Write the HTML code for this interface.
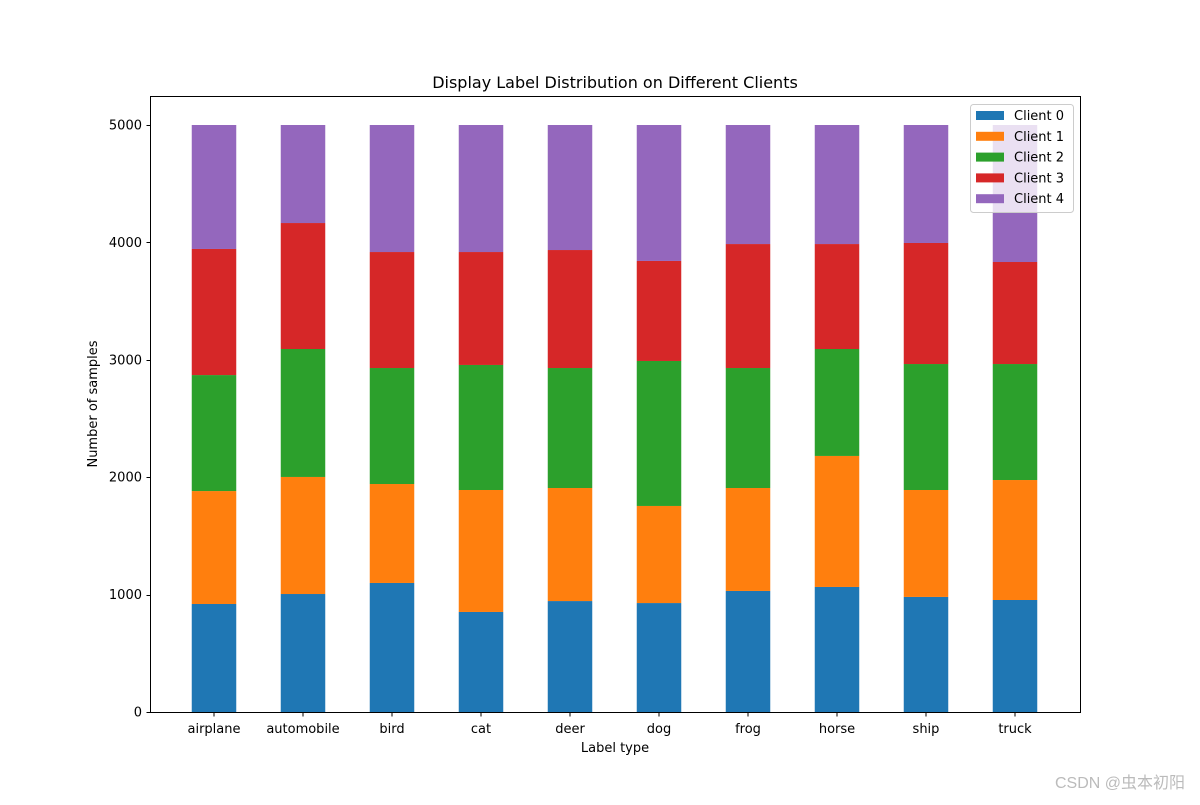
<!DOCTYPE html>
<html><head><meta charset="utf-8"><style>
body{margin:0;background:#fff;width:1200px;height:800px;overflow:hidden}
svg text{font-family:"DejaVu Sans","Liberation Sans",sans-serif;fill:#000}
</style></head><body>
<svg id="chart" width="1200" height="800" xmlns="http://www.w3.org/2000/svg">
<rect x="0" y="0" width="1200" height="800" fill="#fff"/>
<text x="615" y="88" font-size="16" text-anchor="middle">Display Label Distribution on Different Clients</text>
<g id="bars"></g>
<rect x="150.5" y="96.5" width="930" height="616" fill="none" stroke="#000" stroke-width="1"/>
<g id="axes"></g>
<text x="615" y="752" font-size="13" text-anchor="middle">Label type</text>
<text x="97" y="404" font-size="13" text-anchor="middle" transform="rotate(-90 97 404)">Number of samples</text>
<g id="legend"></g>
<text x="1185" y="788" font-size="16" text-anchor="end" style="fill:#bbb;font-family:'Liberation Sans','Noto Sans CJK SC',sans-serif">CSDN @虫本初阳</text>
</svg>
<script>
const categories=["airplane","automobile","bird","cat","deer","dog","frog","horse","ship","truck"];
const seriesNames=["Client 0","Client 1","Client 2","Client 3","Client 4"];
const client0=[920,1005,1099,852,945,928,1031,1065,980,954];
const client1=[962,997,843,1039,963,827,877,1116,911,1022];
const client2=[988,1090,988,1065,1022,1235,1022,911,1073,988];
const client3=[1074,1073,988,962,1005,852,1056,894,1031,869];
const client4=[1056,835,1082,1082,1065,1158,1014,1014,1005,1167];
const yTicks=[0,1000,2000,3000,4000,5000];
const colors=["#1f77b4","#ff7f0e","#2ca02c","#d62728","#9467bd"];
const series=[client0,client1,client2,client3,client4];
const NS="http://www.w3.org/2000/svg";
const y=v=>712-v*(587/5000);
const x=i=>214+i*89;
const bw=44.5;
function mk(t,a,p){const e=document.createElementNS(NS,t);for(const k in a)e.setAttribute(k,a[k]);p.appendChild(e);return e;}
const bars=document.getElementById('bars');
categories.forEach((c,i)=>{let base=0;series.forEach((s,j)=>{
 const r=mk('rect',{x:x(i)-bw/2,y:y(base+s[i]),width:bw,height:y(base)-y(base+s[i]),fill:colors[j]},bars);
 
 
 base+=s[i];});});
const ax=document.getElementById('axes');
categories.forEach((c,i)=>{
 const l=mk('line',{x1:x(i),x2:x(i),y1:712.5,y2:716.5,stroke:'#000'},ax);
 
 
 const t=mk('text',{x:x(i),y:733,'font-size':13,'text-anchor':'middle'},ax);t.textContent=c;
 
 });
yTicks.forEach(v=>{
 const l=mk('line',{x1:146.5,x2:150.5,y1:Math.round(y(v))+0.5,y2:Math.round(y(v))+0.5,stroke:'#000'},ax);
 
 
 const t=mk('text',{x:142,y:y(v)+4.5,'font-size':13,'text-anchor':'end'},ax);t.textContent=v;
 
 });
const lg=document.getElementById('legend');
mk('rect',{x:970.5,y:104.5,width:103,height:108,rx:3,fill:'#fff','fill-opacity':0.8,stroke:'#ccc'},lg);
seriesNames.forEach((n,j)=>{
 const yy=115+j*20.8;
 const r=mk('rect',{x:976,y:yy-4,width:28,height:9,fill:colors[j]},lg);
 
 
 const t=mk('text',{x:1014,y:yy+5,'font-size':13},lg);t.textContent=n;
 
 });
</script>
</body></html>
